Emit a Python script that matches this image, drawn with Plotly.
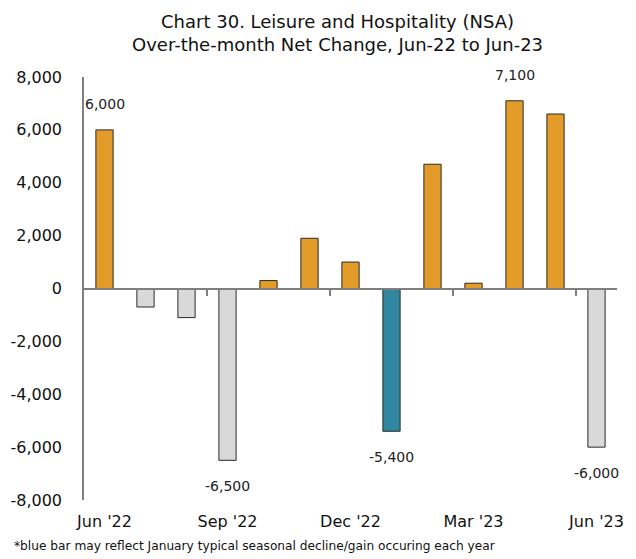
import plotly.graph_objects as go

months = ["Jun '22", "Jul '22", "Aug '22", "Sep '22", "Oct '22", "Nov '22", "Dec '22",
          "Jan '23", "Feb '23", "Mar '23", "Apr '23", "May '23", "Jun '23"]
values = [6000, -700, -1100, -6500, 300, 1900, 1000, -5400, 4700, 200, 7100, 6600, -6000]
bar_colors = ["#E39B2A", "#D9D9D9", "#D9D9D9", "#D9D9D9", "#E39B2A", "#E39B2A", "#E39B2A",
              "#31879F", "#E39B2A", "#E39B2A", "#E39B2A", "#E39B2A", "#D9D9D9"]
labeled = [0, 3, 7, 10, 12]
tick_idx = [0, 3, 6, 9, 12]
y_ticks = [-8000, -6000, -4000, -2000, 0, 2000, 4000, 6000, 8000]


def fmt(v):
    return f"{v:,}"


FONT = "DejaVu Sans"
x = list(range(len(months)))

fig = go.Figure()
fig.add_trace(go.Bar(
    x=x, y=values, width=0.42,
    marker=dict(color=bar_colors, line=dict(color="#2a2a2a", width=1)),
    showlegend=False, hoverinfo="skip"))

for i in labeled:
    v = values[i]
    fig.add_annotation(x=i, y=v, text=fmt(v), showarrow=False,
                       yshift=26 if v > 0 else -26,
                       font=dict(family=FONT, size=14, color="#222"))

fig.update_layout(
    width=628, height=551,
    margin=dict(l=76, r=19, t=69, b=59),
    plot_bgcolor="white", paper_bgcolor="white",
    font=dict(family=FONT, size=16, color="#111"),
    xaxis=dict(range=[-0.5, 12.5], tickvals=[x[i] for i in tick_idx],
               ticktext=[months[i] for i in tick_idx], ticks="", showline=False,
               ticklabelstandoff=10, automargin=False,
               showgrid=False, zeroline=False, tickfont=dict(size=16)),
    xaxis2=dict(range=[-0.5, 12.5], overlaying="x", anchor="free", position=0.5,
                side="bottom", tickvals=[2.5, 5.5, 8.5, 11.5], ticks="outside",
                ticklen=7, tickcolor="#7f7f7f", tickwidth=1.5, showticklabels=False,
                showline=True, linecolor="#7f7f7f", linewidth=1.5, showgrid=False,
                zeroline=False, automargin=False),
    yaxis=dict(range=[-8000, 8000], tickvals=y_ticks, ticktext=[fmt(v) for v in y_ticks],
               showline=True, linecolor="#7f7f7f", linewidth=1.5, ticks="",
               ticklabelstandoff=17, automargin=False,
               showgrid=False, zeroline=False, tickfont=dict(size=16)),
)
fig.add_trace(go.Scatter(x=[0], y=[0], xaxis="x2", mode="markers",
                         marker=dict(opacity=0), showlegend=False, hoverinfo="skip"))

fig.add_annotation(text="Chart 30. Leisure and Hospitality (NSA)<br>Over-the-month Net Change, Jun-22 to Jun-23",
                   xref="paper", yref="paper", x=0.475, y=1.0, yshift=20,
                   xanchor="center", yanchor="bottom", showarrow=False,
                   font=dict(family=FONT, size=18, color="#111"))
fig.add_annotation(text="*blue bar may reflect January typical seasonal decline/gain occuring each year",
                   xref="paper", yref="paper", x=-0.135, y=0, yshift=-46,
                   xanchor="left", yanchor="middle", showarrow=False,
                   font=dict(family=FONT, size=12.2, color="#111"))

fig.write_html("out.html")
